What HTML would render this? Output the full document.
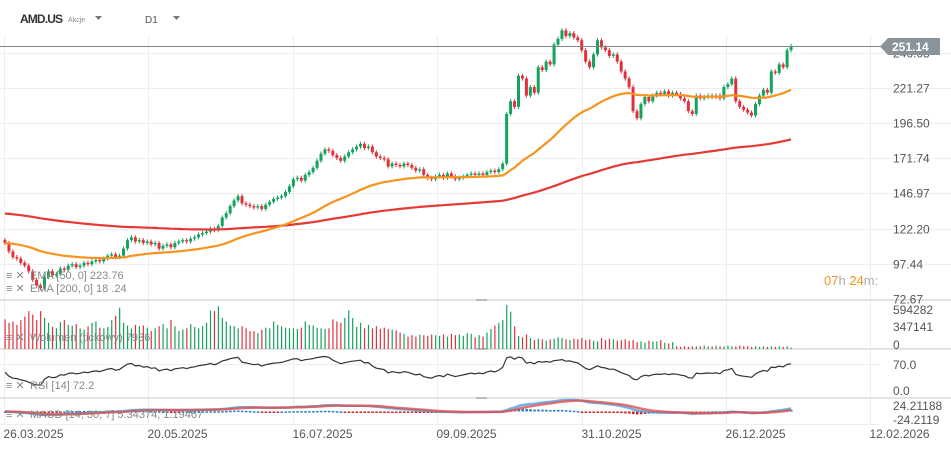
<!DOCTYPE html>
<html><head><meta charset="utf-8">
<style>
body{margin:0;background:#fff;font-family:"Liberation Sans",sans-serif;}
#wrap{position:relative;width:951px;height:449px;overflow:hidden;background:#fff;}
svg text{font-family:"Liberation Sans",sans-serif;}
</style></head>
<body>
<div id="wrap">
<svg id="chart" width="951" height="449" viewBox="0 0 951 449">
  <g id="grid"></g>
  <g id="vol"></g>
  <g id="rsi"></g>
  <g id="macd"></g>
  <g id="main"></g>
  <g id="axes"></g>
  <!-- header -->
  <text x="20" y="23" font-size="12" font-weight="bold" fill="#333" textLength="43">AMD.US</text>
  <text x="68" y="22" font-size="7" fill="#888">Akcje</text>
  <path d="M95,16 L102,16 L98.5,20 Z" fill="#777"/>
  <text x="145" y="23" font-size="10" fill="#555">D1</text>
  <path d="M173,16 L180,16 L176.5,20 Z" fill="#777"/>
  <!-- countdown -->
  <text x="824" y="285" font-size="13"><tspan fill="#f7931e">07</tspan><tspan fill="#aaa">h </tspan><tspan fill="#f7931e">24</tspan><tspan fill="#aaa">m:</tspan></text>
  <rect x="881" y="270" width="70" height="20" fill="#fff"/>
  <!-- legends -->
  <g font-size="11" fill="#888">
    <text x="6" y="279" font-size="11">≡ ✕</text><text x="30" y="279">EMA [50, 0] 223.76</text></g>
  <g font-size="11" fill="#888">
    <text x="6" y="292" font-size="11">≡ ✕</text><text x="30" y="292">EMA [200, 0] 18 .24</text></g>
  <g font-size="11" fill="#888">
    <text x="6" y="341">≡ ✕</text><text x="30" y="341">Wolumen (tickowy) 7936</text></g>
  <g font-size="11" fill="#888">
    <text x="6" y="389">≡ ✕</text><text x="30" y="389">RSI [14] 72.2</text></g>
  <g font-size="11" fill="#888">
    <text x="6" y="418">≡ ✕</text><text x="30" y="418">MACD [14, 30, 7] 5.34374, 1.19467</text></g>
</svg>
</div>
<script>
const closes=[112,106,102,101,98,96,92,86,82,80,
88,92,89,90,94,93,96,97,95,96,
98,97,99,100,99,101,103,104,102,103,
108,114,116,113,114,112,113,111,112,108,
110,111,109,112,113,114,113,115,116,118,
119,120,122,121,124,130,133,138,142,145,
140,139,138,137,138,136,139,141,143,144,
145,148,152,157,158,156,160,162,165,170,
175,178,177,174,172,170,173,176,178,180,
182,179,180,176,173,172,171,166,168,167,
166,168,167,165,163,164,160,158,157,159,
160,158,161,159,157,158,159,160,161,160,
161,160,162,163,162,164,168,203,212,208,
230,228,216,222,218,236,234,240,238,252,
256,262,258,260,257,255,248,240,236,245,
255,250,248,244,245,240,233,228,222,205,
200,210,215,212,216,218,217,219,216,218,
217,214,212,205,203,216,214,215,216,215,
216,214,222,224,228,212,208,206,204,202,
210,216,220,218,233,232,238,236,248,251];
const volumes=[430,380,400,350,420,470,550,500,420,550,
450,380,320,300,390,420,350,340,360,300,
280,330,380,400,310,300,320,420,480,600,
380,340,300,350,330,340,310,260,300,330,
360,300,420,330,260,280,300,360,320,300,
330,380,560,550,620,450,400,340,330,300,
330,300,260,260,230,280,310,300,400,350,
330,310,300,300,290,310,400,350,340,310,
300,290,300,430,400,380,450,560,450,320,
380,300,350,300,330,290,310,290,280,270,
240,220,180,200,180,210,200,190,210,200,
190,210,180,220,200,210,190,230,220,170,
200,180,240,290,340,380,420,640,540,330,
190,170,210,160,130,150,140,120,140,150,
170,160,140,130,150,140,160,130,140,120,
110,160,130,150,140,120,130,140,120,130,
100,110,90,120,110,110,130,90,80,100,
40,30,40,30,40,40,40,50,40,40,
50,40,40,50,40,40,50,40,40,30,
40,30,40,30,40,30,40,30,40,20];
const priceTicks=["246.03","221.27","196.50","171.74","146.97","122.20","97.44","72.67"];
const priceTickVals=[246.03,221.27,196.50,171.74,146.97,122.20,97.44,72.67];
const dateLabels=["26.03.2025","20.05.2025","16.07.2025","09.09.2025","31.10.2025","26.12.2025","12.02.2026"];
const dateIdx=[0,37,73,110,146,183,219];
const volTicks=["594282","347141","0"];
const volTickVals=[594.282,347.141,0];
const rsiTicks=["70.0","0.0"];
const rsiTickVals=[70,0];
const macdTicks=["24.21188","-24.2119"];
const macdTickVals=[24.21188,-24.2119];
const lastPrice=251.14;
const ema50Seed=112, ema200Seed=133;

const NS="http://www.w3.org/2000/svg";
function mk(tag,attrs,parent){const e=document.createElementNS(NS,tag);for(const k in attrs)e.setAttribute(k,attrs[k]);parent.appendChild(e);return e;}
const X=i=>5+i*3.95;
const Y=p=>53+(246.03-p)*1.4173;
const VY=v=>349-v*0.0689;
const RY=r=>393-r*0.414;
const MY=m=>411.5-m*0.5;

const grid=document.getElementById('grid'),axes=document.getElementById('axes'),main=document.getElementById('main');
const vol=document.getElementById('vol'),rsiG=document.getElementById('rsi'),macdG=document.getElementById('macd');

dateIdx.forEach((d,k)=>{
  const x=Math.round(4+k*144.4)+0.5;
  let l=mk('line',{x1:x,x2:x,y1:35,y2:424,stroke:'#eeeeee','stroke-width':1},grid);
  
  
  let t=mk('text',{x:x-1,y:438,'font-size':12,fill:'#555'},axes);
  t.textContent=dateLabels[k];
  
  
});
priceTickVals.forEach((v,k)=>{
  const y=Math.round(Y(v))+0.5;
  let l=mk('line',{x1:0,x2:951,y1:y,y2:y,stroke:'#eeeeee','stroke-width':1},grid);
  
  
  let t=mk('text',{x:893,y:y+4,'font-size':12,fill:'#555'},axes);
  t.textContent=priceTicks[k];
  
  
});
[300,349,398].forEach(y=>{
  let l=mk('line',{x1:0,x2:951,y1:y,y2:y,stroke:'#dcdcdc','stroke-width':1.5},grid);
  
  
  let h=mk('rect',{x:476,y:y-1,width:11,height:2,fill:'#bbb'},grid);
  
  
});
mk('line',{x1:0,x2:880,y1:364.5,y2:364.5,stroke:'#eeeeee'},grid);
mk('line',{x1:0,x2:880,y1:424.5,y2:424.5,stroke:'#eeeeee'},grid);

const opens=closes.map((c,i)=>i?closes[i-1]:c+2);
closes.forEach((c,i)=>{
  const o=opens[i],up=c>=o,col=up?'#13a35e':'#e0313b';
  const x=X(i),hi=Math.max(o,c)+1.5,lo=Math.min(o,c)-1.5;
  let w=mk('line',{x1:x,x2:x,y1:Y(hi),y2:Y(lo),stroke:col,'stroke-width':1},main);
  
  
  const yt=Y(Math.max(o,c)),yb=Y(Math.min(o,c));
  let r=mk('rect',{x:x-1.5,y:yt,width:3,height:Math.max(1,yb-yt),fill:col},main);
  
  
  let vb=mk('rect',{x:x-0.5,y:VY(volumes[i]),width:1.2,height:349-VY(volumes[i]),fill:col},vol);
  
  
});
function ema(arr,n,seed){const k=2/(n+1);let e=seed;return arr.map(v=>(e=v*k+e*(1-k)));}
const e50=ema(closes,50,ema50Seed),e200=ema(closes,200,ema200Seed);
function poly(vals,fy,col,w,parent,name,op){
  const p=mk('polyline',{points:vals.map((v,i)=>X(i).toFixed(1)+','+fy(v).toFixed(1)).join(' '),fill:'none',stroke:col,'stroke-width':w,'stroke-linejoin':'round','stroke-opacity':op||1},parent);
  
  
  return p;
}
poly(e200,Y,'#e53935',2.2,main,'ema200-line');
poly(e50,Y,'#f7931e',2.2,main,'ema50-line');

let ag=1,al=1;const rsiVals=closes.map((c,i)=>{if(i){const d=c-closes[i-1];ag=(ag*13+Math.max(d,0))/14;al=(al*13+Math.max(-d,0))/14;}return 100-100/(1+ag/al);});
poly(rsiVals,RY,'#333',1.2,rsiG,'rsi-line');
const ef=ema(closes,14,closes[0]),es=ema(closes,30,closes[0]);
const macdVals=ef.map((v,i)=>v-es[i]);
const sigVals=ema(macdVals,7,0);
macdVals.forEach((m,i)=>{
  const h=m-sigVals[i];
  let b=mk('rect',{x:X(i)-1,y:Math.min(MY(0),MY(h)),width:2.5,height:Math.max(1.5,Math.abs(MY(h)-MY(0))),fill:h>=0?'#1f7fc4':'#d01c1c'},macdG);
  
  
});
poly(macdVals,MY,'#4aa3df',2.5,macdG,'macd-line',0.8);
poly(sigVals,MY,'#e05050',2.5,macdG,'macd-signal-line',0.8);

function tick(lbl,y,name){let t=mk('text',{x:893,y:y+4,'font-size':12,fill:'#555'},axes);t.textContent=lbl;}
volTicks.forEach((l,k)=>tick(l,[310,327,345][k],'volume-tick-label'));
rsiTicks.forEach((l,k)=>tick(l,[RY(rsiTickVals[k])+1,RY(rsiTickVals[k])-2][k],'rsi-tick-label'));
macdTicks.forEach((l,k)=>tick(l,[406,420][k],'macd-tick-label'));

let pl=mk('line',{x1:0,x2:882,y1:46.5,y2:46.5,stroke:'#7d868c','stroke-width':1},axes);


let tag=mk('path',{d:'M880,46.5 L888,38 L940,38 L940,55 L888,55 Z',fill:'#8a9399'},axes);


let tt=mk('text',{x:892,y:51,'font-size':12,fill:'#fff','font-weight':'bold'},axes);
tt.textContent=lastPrice.toFixed(2);


</script>
</body></html>
